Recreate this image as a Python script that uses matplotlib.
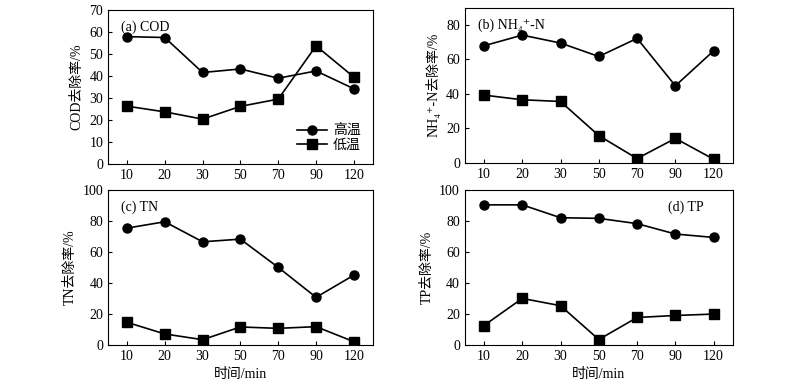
import matplotlib
matplotlib.use('Agg')
import matplotlib.pyplot as plt
import numpy as np

plt.rcParams['font.family'] = ['Liberation Serif', 'Noto Sans CJK SC', 'DejaVu Serif']
plt.rcParams['font.size'] = 10

times = ['10', '20', '30', '50', '70', '90', '120']

cod_high = [57.9, 57.5, 41.6, 43.2, 39.0, 42.3, 34.2]
cod_low = [26.3, 23.7, 20.4, 26.2, 29.5, 53.7, 39.5]
nh4_high = [67.9, 74.1, 69.5, 61.7, 72.2, 44.7, 65.0]
nh4_low = [39.3, 36.6, 35.6, 15.8, 2.5, 14.2, 2.1]
tn_high = [75.3, 79.4, 66.5, 68.2, 50.0, 30.7, 45.0]
tn_low = [14.6, 7.1, 3.4, 11.6, 10.7, 11.8, 2.1]
tp_high = [90.3, 90.3, 82.0, 81.6, 78.2, 71.5, 69.3]
tp_low = [12.5, 30.0, 25.3, 3.5, 17.7, 19.0, 19.9]

fig = plt.figure(figsize=(8, 3.85), dpi=100)
positions = [
    [0.135, 0.574, 0.331, 0.400],
    [0.581, 0.577, 0.335, 0.403],
    [0.135, 0.104, 0.331, 0.403],
    [0.581, 0.104, 0.335, 0.403],
]
panels = [
    (cod_high, cod_low, 70, 10, 'COD去除率/%', '(a) COD', (0.05, 0.93)),
    (nh4_high, nh4_low, 90, 20, 'NH\u2084\u207a-N去除率/%', '(b) NH\u2084\u207a-N', (0.05, 0.93)),
    (tn_high, tn_low, 100, 20, 'TN去除率/%', '(c) TN', (0.05, 0.93)),
    (tp_high, tp_low, 100, 20, 'TP去除率/%', '(d) TP', (0.76, 0.93)),
]

xs = np.arange(len(times))
for i, (pos, p) in enumerate(zip(positions, panels)):
    high, low, ymax, step, ylabel, title, tpos = p
    ax = fig.add_axes(pos)
    ax.plot(xs, high, '-o', color='black', lw=1.2, ms=6.5, label='高温')
    ax.plot(xs, low, '-s', color='black', lw=1.2, ms=6.5, label='低温')
    ax.set_xlim(-0.5, len(times) - 0.5)
    ax.set_ylim(0, ymax)
    ax.set_yticks(np.arange(0, ymax + 1, step))
    ax.set_xticks(xs)
    ax.set_xticklabels(times)
    ax.tick_params(direction='in', length=3, width=0.8, labelsize=10)
    ax.set_ylabel(ylabel, fontsize=10)
    ax.text(tpos[0], tpos[1], title, transform=ax.transAxes, va='top', ha='left', fontsize=10)
    for s in ax.spines.values():
        s.set_linewidth(0.8)
    if i >= 2:
        ax.set_xlabel('时间/min', fontsize=10)
    if i == 0:
        ax.legend(loc='lower right', bbox_to_anchor=(0.975, 0.04), frameon=False,
                  fontsize=10, handlelength=2.2, handletextpad=0.4,
                  labelspacing=0.1, borderaxespad=0.0)

fig.savefig('out.png', dpi=100)
